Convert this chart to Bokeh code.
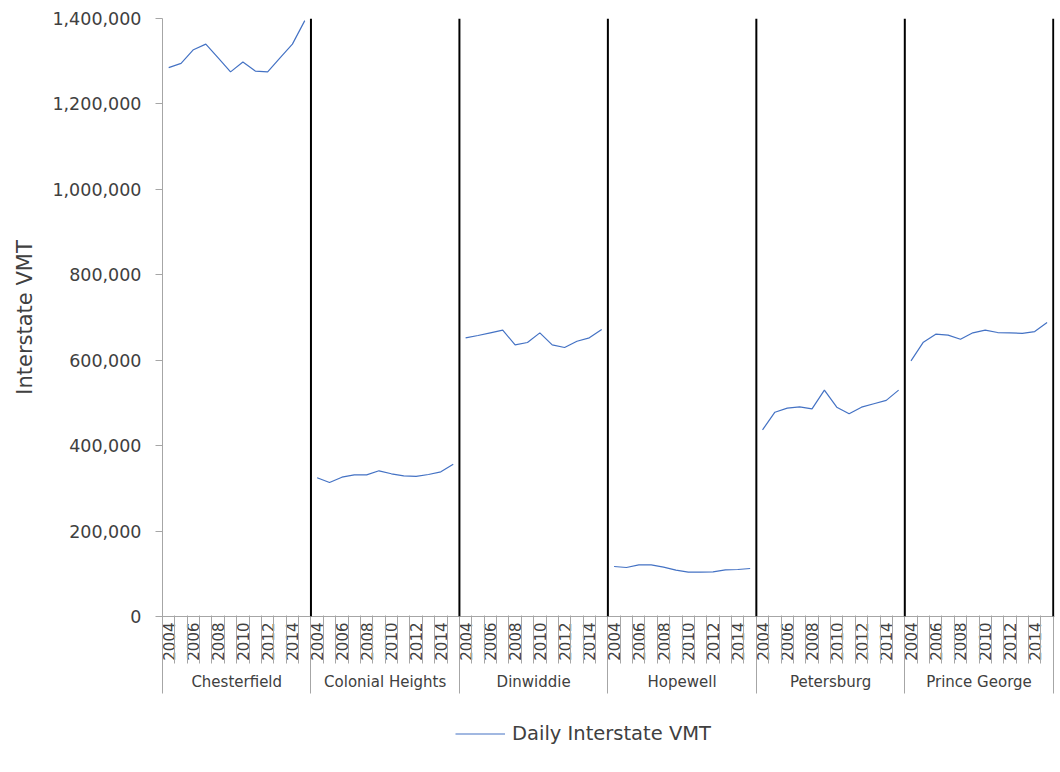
import math
from bokeh.plotting import figure
from bokeh.layouts import column, row
from bokeh.models import (FixedTicker, LinearAxis, NumeralTickFormatter, Span,
                          Legend, LegendItem, Range1d, Spacer)
from bokeh.embed import file_html
from bokeh.resources import INLINE

counties = ["Chesterfield", "Colonial Heights", "Dinwiddie", "Hopewell",
            "Petersburg", "Prince George"]
years = list(range(2004, 2016))

chesterfield = [1285000, 1295000, 1327000, 1340000, 1308000, 1275000,
                1298000, 1277000, 1275000, 1308000, 1340000, 1395000]
colonial_heights = [324700, 313700, 326100, 331700, 331700, 341100,
                    334100, 329400, 328000, 332400, 338700, 356500]
dinwiddie = [652400, 657800, 664000, 670300, 636000, 641400,
             664000, 636000, 629700, 644500, 652400, 671900]
hopewell = [117000, 114700, 121000, 121000, 115400, 108400,
            103700, 103700, 104500, 109300, 110000, 112400]
petersburg = [437000, 478300, 487700, 490900, 486200, 530000,
              490000, 474500, 490000, 498000, 506000, 530000]
prince_george = [598600, 642200, 660900, 658600, 649200, 664100,
                 670300, 664800, 664000, 663000, 667000, 688200]

series = [chesterfield, colonial_heights, dinwiddie, hopewell, petersburg, prince_george]
y_ticks = list(range(0, 1400001, 200000))
legend_label = "Daily Interstate VMT"

FONT = "DejaVu Sans"
TXT = "#404040"
GRAY = "#A6A6A6"
LINE = "#4472C4"

n = len(years)
ng = len(counties)

p = figure(width=1058, height=713, output_backend="svg", toolbar_location=None,
           x_range=Range1d(0, ng * n + 0.1), y_range=Range1d(0, 1400000),
           x_axis_type=None,
           min_border_left=162, min_border_right=4, min_border_top=18,
           min_border_bottom=97)
p.outline_line_color = None
p.grid.visible = False

for g, vals in enumerate(series):
    xs = [g * n + i + 0.5 for i in range(n)]
    p.line(xs, vals, line_color=LINE, line_width=1.2)

for g in range(1, ng + 1):
    p.add_layout(Span(location=g * n, dimension="height", line_color="black",
                      line_width=2))

# y axis
ya = p.yaxis[0]
ya.ticker = FixedTicker(ticks=y_ticks, minor_ticks=[])
ya.formatter = NumeralTickFormatter(format="0,0")
ya.major_tick_out = 7
ya.major_tick_in = 0
ya.major_tick_line_color = GRAY
ya.axis_line_color = GRAY
ya.major_label_text_font = FONT
ya.major_label_text_font_size = "17.5px"
ya.major_label_text_color = TXT
ya.major_label_standoff = 14
ya.axis_label = "Interstate VMT"
ya.axis_label_text_font = FONT
ya.axis_label_text_font_size = "21px"
ya.axis_label_text_font_style = "normal"
ya.axis_label_text_color = TXT
ya.axis_label_standoff = 12

year_pos = []
year_over = {}
for g in range(ng):
    for i, yr in enumerate(years):
        if i % 2 == 0:
            pos = g * n + i + 0.5
            year_pos.append(pos)
            year_over[pos] = str(yr)
bounds = list(range(ng * n + 1))
grp_pos = [g * n + n / 2 for g in range(ng)]
grp_over = {grp_pos[g]: counties[g] for g in range(ng)}
grp_bounds = [g * n for g in range(ng + 1)]

# year labels (with the category axis line)
axA = LinearAxis(ticker=FixedTicker(ticks=year_pos, minor_ticks=[]),
                 major_label_overrides=year_over,
                 major_tick_out=0, major_tick_in=0,
                 axis_line_color=GRAY,
                 major_label_orientation=math.pi / 2, major_label_standoff=6,
                 major_label_text_font=FONT, major_label_text_font_size="15px",
                 major_label_text_color=TXT)
p.add_layout(axA, "below")

# county labels + year dividers reaching up to the axis line
axB = LinearAxis(ticker=FixedTicker(ticks=grp_pos, minor_ticks=bounds),
                 major_label_overrides=grp_over,
                 major_tick_out=0, major_tick_in=0,
                 minor_tick_out=0, minor_tick_in=48,
                 minor_tick_line_color=GRAY,
                 axis_line_color=None,
                 major_label_standoff=9,
                 major_label_text_font=FONT, major_label_text_font_size="15px",
                 major_label_text_color=TXT)
p.add_layout(axB, "below")

# county dividers
axC = LinearAxis(ticker=FixedTicker(ticks=grp_bounds, minor_ticks=[]),
                 major_label_overrides={b: "" for b in grp_bounds},
                 major_tick_out=0, major_tick_in=84,
                 major_tick_line_color=GRAY,
                 axis_line_color=None,
                 major_label_standoff=0, major_label_text_font_size="1px")
p.add_layout(axC, "below")

# legend strip (its renderer holds the first series but lies outside the strip's ranges)
lf = figure(width=300, height=40, output_backend="svg", toolbar_location=None,
            x_range=Range1d(-2, -1), y_range=Range1d(-2, -1),
            x_axis_type=None, y_axis_type=None, min_border=0)
lf.outline_line_color = None
lf.grid.visible = False
lr = lf.line(x=[i + 0.5 for i in range(n)], y=chesterfield,
             line_color=LINE, line_width=1.2)
leg = Legend(items=[LegendItem(label=legend_label, renderers=[lr])],
             location="left", orientation="horizontal",
             glyph_width=50, glyph_height=20, label_standoff=7,
             label_text_font=FONT, label_text_font_size="19.5px",
             label_text_color=TXT,
             background_fill_alpha=0, border_line_alpha=0,
             padding=0, margin=0)
lf.add_layout(leg)

layout = column(p, row(Spacer(width=455, height=40), lf))

open("out.html", "w").write(file_html(layout, INLINE))
